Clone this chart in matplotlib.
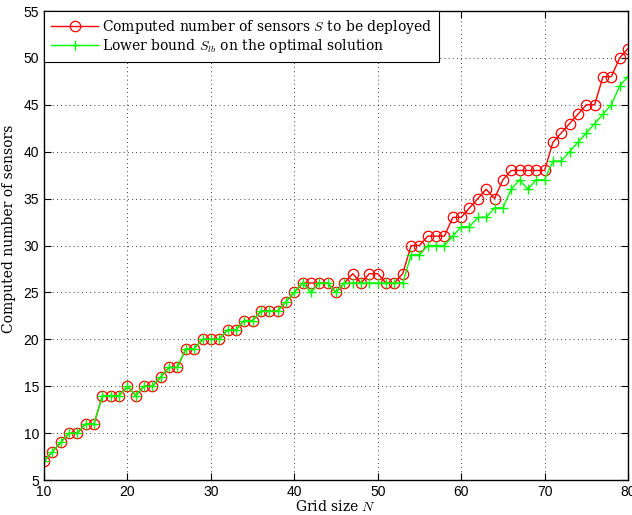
import numpy as np
from matplotlib import pyplot as plt

# grid size N
grid_size = list(range(10, 81))

# computed number of sensors S
sensors = [7, 8, 9, 10, 10, 11, 11, 14, 14, 14,
           15, 14, 15, 15, 16, 17, 17, 19, 19, 20,
           20, 20, 21, 21, 22, 22, 23, 23, 23, 24,
           25, 26, 26, 26, 26, 25, 26, 27, 26, 27,
           27, 26, 26, 27, 30, 30, 31, 31, 31, 33,
           33, 34, 35, 36, 35, 37, 38, 38, 38, 38,
           38, 41, 42, 43, 44, 45, 45, 48, 48, 50,
           51]

# lower bound S_lb
lower_bound = [7, 8, 9, 10, 10, 11, 11, 14, 14, 14,
               15, 14, 15, 15, 16, 17, 17, 19, 19, 20,
               20, 20, 21, 21, 22, 22, 23, 23, 23, 24,
               25, 26, 25, 26, 26, 25, 26, 26, 26, 26,
               26, 26, 26, 26, 29, 29, 30, 30, 30, 31,
               32, 32, 33, 33, 34, 34, 36, 37, 36, 37,
               37, 39, 39, 40, 41, 42, 43, 44, 45, 47,
               48]

plt.rcParams['mathtext.fontset'] = 'cm'
serif = 'DejaVu Serif'

fig = plt.figure(figsize=(6.32, 5.15), dpi=100)
ax = fig.add_axes([44/632, 1 - 480/515, 584/632, 469/515])

ax.plot(grid_size, sensors, color='red', linewidth=1, marker='o',
        markersize=7.5, markerfacecolor='none', markeredgecolor='red',
        markeredgewidth=0.9,
        label=r'Computed number of sensors $S$ to be deployed')
ax.plot(grid_size, lower_bound, color='#00ff00', linewidth=1, marker='+',
        markersize=7.5, markeredgewidth=1.0,
        label=r'Lower bound $S_{lb}$ on the optimal solution')

ax.set_xlim(10, 80)
ax.set_ylim(5, 55)
ax.set_xticks(np.arange(10, 81, 10))
ax.set_yticks(np.arange(5, 56, 5))
ax.tick_params(direction='in', top=True, right=True, labelsize=10, length=5)
for lab in ax.get_xticklabels() + ax.get_yticklabels():
    lab.set_family('Liberation Sans')
for s in ax.spines.values():
    s.set_linewidth(1.0)
ax.grid(True, color='black', linestyle=(0, (1, 4)), linewidth=0.6)

ax.set_xlabel(r'Grid size $N$', fontsize=10, family=serif, labelpad=0)
ax.set_ylabel('Computed number of sensors', fontsize=10, family=serif)
ax.yaxis.set_label_coords(-0.048, 0.535)

leg = ax.legend(loc='upper left', prop={'family': serif, 'size': 10},
                fancybox=False, edgecolor='black', framealpha=1,
                borderaxespad=0.0, borderpad=0.5, handlelength=3.4,
                handletextpad=0.3, labelspacing=0.1)
leg.get_frame().set_linewidth(0.8)

plt.savefig('out.png', dpi=100)
